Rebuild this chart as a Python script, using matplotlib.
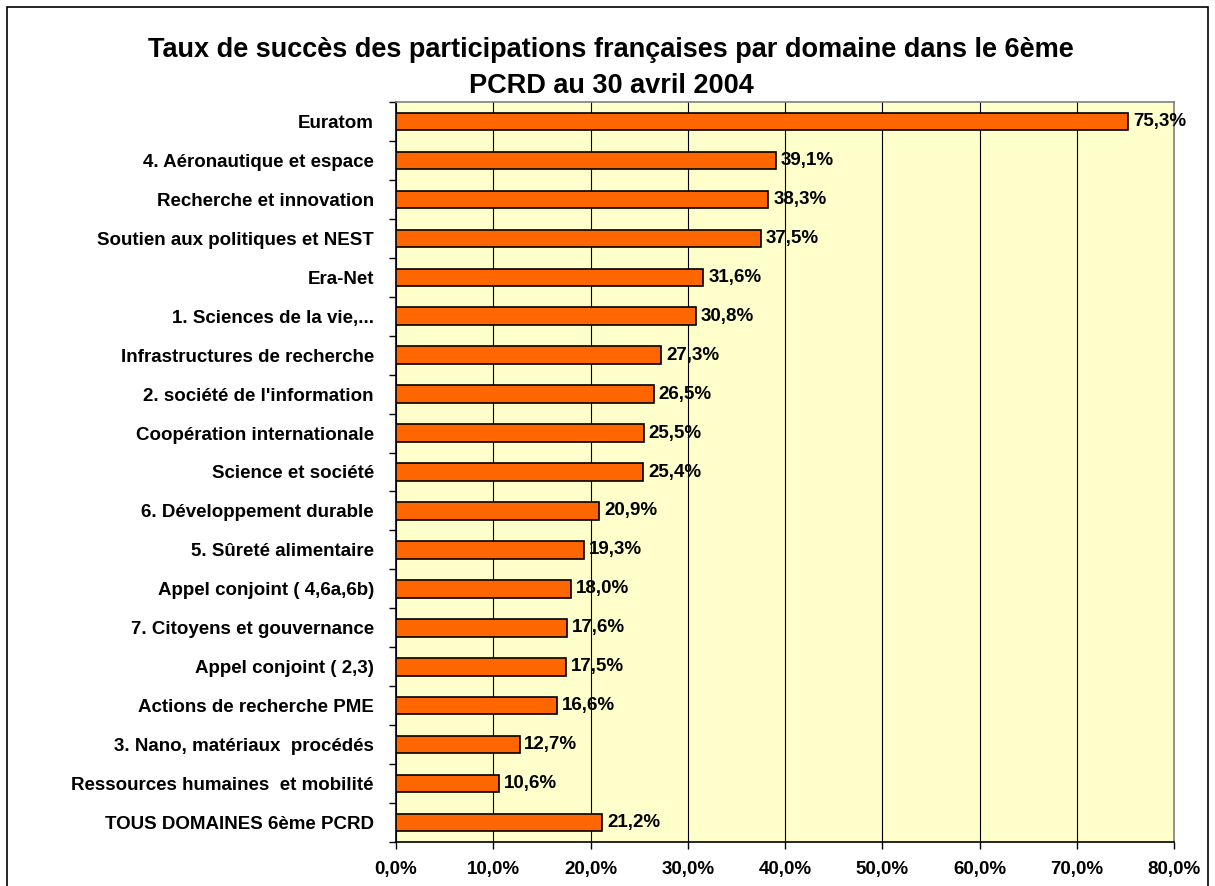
import numpy as np
import matplotlib.pyplot as plt
from matplotlib.ticker import FixedLocator

# Domaines du 6ème PCRD (du haut vers le bas) et taux de succès en %
domaines = [
    "Euratom",
    "4. Aéronautique et espace",
    "Recherche et innovation",
    "Soutien aux politiques et NEST",
    "Era-Net",
    "1. Sciences de la vie,...",
    "Infrastructures de recherche",
    "2. société de l'information",
    "Coopération internationale",
    "Science et société",
    "6. Développement durable",
    "5. Sûreté alimentaire",
    "Appel conjoint ( 4,6a,6b)",
    "7. Citoyens et gouvernance",
    "Appel conjoint ( 2,3)",
    "Actions de recherche PME",
    "3. Nano, matériaux  procédés",
    "Ressources humaines  et mobilité",
    "TOUS DOMAINES 6ème PCRD",
]
taux = [75.3, 39.1, 38.3, 37.5, 31.6, 30.8, 27.3, 26.5, 25.5, 25.4,
        20.9, 19.3, 18.0, 17.6, 17.5, 16.6, 12.7, 10.6, 21.2]
graduations = [0, 10, 20, 30, 40, 50, 60, 70, 80]

plt.rcParams['font.family'] = ['Liberation Sans', 'DejaVu Sans']

fig = plt.figure(figsize=(12.15, 8.86), dpi=100)
ax = fig.add_axes([396 / 1215, 1 - 842 / 886, (1174 - 396) / 1215, (842 - 102) / 886])

# cadre du graphique
fig.patches.append(plt.Rectangle((7 / 1215, -0.01), (1208 - 7) / 1215, 1 - 7 / 886 + 0.01,
                                 transform=fig.transFigure, fill=False,
                                 edgecolor='black', linewidth=1.2))

n = len(domaines)
y = np.arange(n)
ax.set_facecolor('#FFFFCC')
ax.barh(y, taux, height=0.45, color='#FF6600', edgecolor='black', linewidth=1.2, zorder=3)
for yi, v in zip(y, taux):
    ax.text(v + 0.5, yi, f"{v:.1f}%".replace('.', ','), va='center', ha='left',
            fontsize=13.5, fontweight='bold', zorder=4)

ax.set_xlim(0, 80)
ax.set_ylim(n - 0.5, -0.5)
ax.set_xticks(graduations)
ax.set_xticklabels([f"{g:.1f}%".replace('.', ',') for g in graduations],
                   fontsize=13.5, fontweight='bold')
ax.set_yticks(y)
ax.set_yticklabels(domaines, fontsize=13.5, fontweight='bold')
ax.yaxis.set_minor_locator(FixedLocator(np.arange(n + 1) - 0.5))
ax.tick_params(axis='y', which='major', length=0, pad=16)
ax.tick_params(axis='y', which='minor', length=5, width=1, direction='out')
ax.tick_params(axis='x', length=5, width=1, direction='out', pad=9)
ax.grid(axis='x', color='black', linewidth=0.8, zorder=1)

for s in ['top', 'right']:
    ax.spines[s].set_color('#808080')
for s in ['left', 'bottom']:
    ax.spines[s].set_color('black')
for s in ax.spines.values():
    s.set_linewidth(1.2)

fig.text(0.503, 1 - 50 / 886, "Taux de succès des participations françaises par domaine dans le 6ème",
         ha='center', va='center', fontsize=19.5, fontweight='bold')
fig.text(0.503, 1 - 86 / 886, "PCRD au 30 avril 2004",
         ha='center', va='center', fontsize=19.5, fontweight='bold')

fig.savefig('out.png', dpi=100)
